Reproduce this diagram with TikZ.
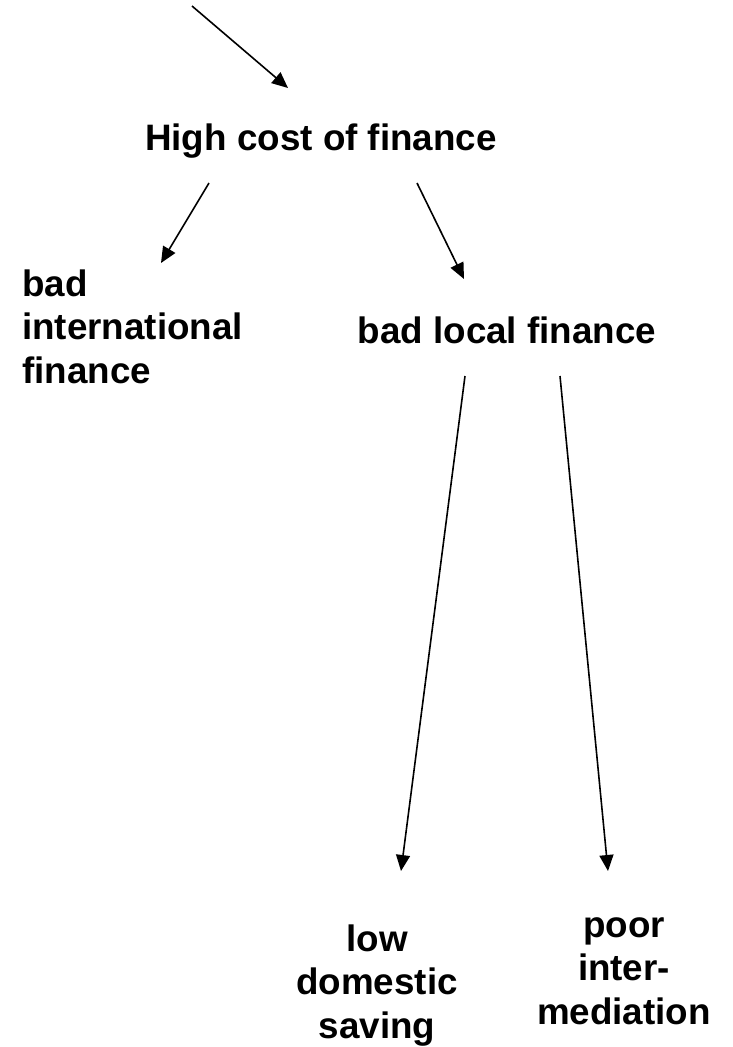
\documentclass[tikz,border=0pt]{standalone}
\usepackage{fontspec}
\setmainfont{Liberation Sans}
\usetikzlibrary{arrows.meta}
\tikzset{
  lbl/.style={font=\fontsize{36.8}{43.5}\selectfont\bfseries, inner sep=0pt, anchor=base},
  arr/.style={line width=1.6pt, -{Triangle[length=16pt,width=14pt]}}
}
\begin{document}
\begin{tikzpicture}[x=1pt,y=-1pt]
\useasboundingbox[fill=white] (0,0) rectangle (732,1047);
\node[lbl] (hc) at (321,150) {High cost of finance};
\node[lbl, anchor=base west, align=left] (bif) at (22,383) {bad\\international\\finance};
\node[lbl] (blf) at (507,343) {bad local finance};
\node[lbl, align=center] (lds) at (377,1038) {low\\domestic\\saving};
\node[lbl, align=center] (pim) at (624,1024) {poor\\inter-\\mediation};
\coordinate (t0) at (192,6);
\coordinate (t1) at (288,88);
\coordinate (l0) at (209,183);
\coordinate (l1) at (161,263);
\coordinate (r0) at (417,183);
\coordinate (r1) at (464,279);
\coordinate (a0) at (465,376);
\coordinate (a1) at (401,871);
\coordinate (b0) at (560,376);
\coordinate (b1) at (608,871);
\draw[arr] (t0) -- (t1);
\draw[arr] (l0) -- (l1);
\draw[arr] (r0) -- (r1);
\draw[arr] (a0) -- (a1);
\draw[arr] (b0) -- (b1);
\end{tikzpicture}
\end{document}
